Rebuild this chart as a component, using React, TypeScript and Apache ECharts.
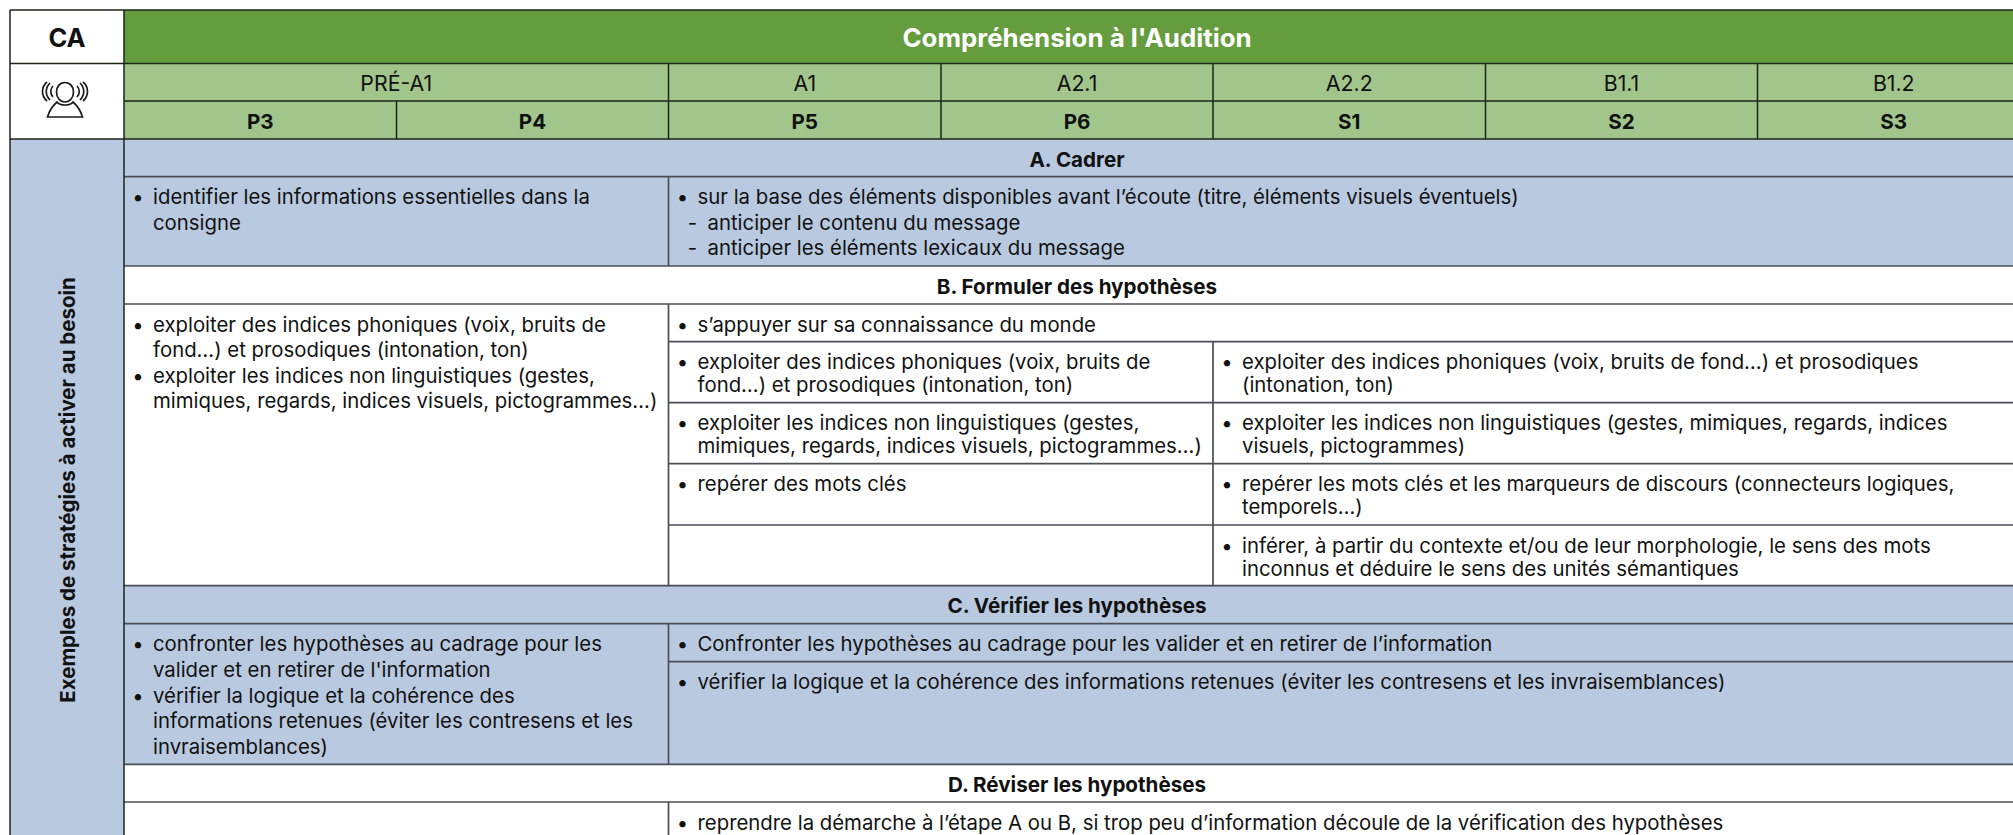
import React, { useEffect, useRef } from "react";
import * as echarts from "echarts";

const sideTitle = "CA";
const mainTitle = "Compréhension à l'Audition";
const sideLabel = "Exemples de stratégies à activer au besoin";
const levels = ["PRÉ-A1", "A1", "A2.1", "A2.2", "B1.1", "B1.2"];
const grades = ["P3", "P4", "P5", "P6", "S1", "S2", "S3"];
const sections = ["A. Cadrer", "B. Formuler des hypothèses", "C. Vérifier les hypothèses", "D. Réviser les hypothèses"];

const aLeft = ["• identifier les informations essentielles dans la", "consigne"];
const aRight = ["• sur la base des éléments disponibles avant l’écoute (titre, éléments visuels éventuels)", "- anticiper le contenu du message", "- anticiper les éléments lexicaux du message"];
const bLeft = ["• exploiter des indices phoniques (voix, bruits de", "fond…) et prosodiques (intonation, ton)", "• exploiter les indices non linguistiques (gestes,", "mimiques, regards, indices visuels, pictogrammes…)"];
const bWide = ["• s’appuyer sur sa connaissance du monde"];
const bMid = [
  ["• exploiter des indices phoniques (voix, bruits de", "fond…) et prosodiques (intonation, ton)"],
  ["• exploiter les indices non linguistiques (gestes,", "mimiques, regards, indices visuels, pictogrammes…)"],
  ["• repérer des mots clés"],
];
const bRight = [
  ["• exploiter des indices phoniques (voix, bruits de fond…) et prosodiques", "(intonation, ton)"],
  ["• exploiter les indices non linguistiques (gestes, mimiques, regards, indices", "visuels, pictogrammes)"],
  ["• repérer les mots clés et les marqueurs de discours (connecteurs logiques,", "temporels…)"],
  ["• inférer, à partir du contexte et/ou de leur morphologie, le sens des mots", "inconnus et déduire le sens des unités sémantiques"],
];
const cLeft = ["• confronter les hypothèses au cadrage pour les", "valider et en retirer de l'information", "• vérifier la logique et la cohérence des", "informations retenues (éviter les contresens et les", "invraisemblances)"];
const cRight = [
  ["• Confronter les hypothèses au cadrage pour les valider et en retirer de l’information"],
  ["• vérifier la logique et la cohérence des informations retenues (éviter les contresens et les invraisemblances)"],
];
const dRight = ["• reprendre la démarche à l’étape A ou B, si trop peu d’information découle de la vérification des hypothèses"];

const FONT = "Inter";
const GREEN = "#659d3e";
const LIGHT = "#a2c58c";
const BLUE = "#b8c9e0";
const W = 2013, H = 835;
const X = [10, 124, 396.5, 668.5, 941, 1213, 1485.5, 1757.5, 2030];
const Y = { top: 10, title: 63.5, level: 101, grade: 139, a: 176.7, aEnd: 266, b: 304, b1: 341.7, b2: 402.7, b3: 463.7, b4: 525, c: 585.7, c0: 623.7, c1: 661.7, d: 764.3, d0: 802 };

echarts.graphic.registerShape("listener", echarts.graphic.extendPath(
  "M65 82.5 C59.5 82.5 56.5 87 56.5 92 C56.5 97.5 60 102 65 102 C70 102 73.5 97.5 73.5 92 C73.5 87 70.5 82.5 65 82.5 Z " +
  "M47.5 117 L82.5 117 C80.5 110 76.5 105 73 102 C70 106 60 106 57 102 C53.5 105 49.5 110 47.5 117 Z " +
  "M53 86 C50 89 50 94 53 97 M50 83 C45 88 45 95 50 100 M47 82 C41 87 41 96 47 101 " +
  "M77 86 C80 89 80 94 77 97 M80 83 C85 88 85 95 80 100 M83 82 C89 87 89 96 83 101", {}));

function txt(text: string, x: number, y: number, o: any = {}) {
  return {
    type: "text", x, y, rotation: o.rotation || 0,
    style: { text, fontFamily: o.family || FONT, fontSize: o.size || 20.35, fontWeight: o.weight || 400, fill: o.fill || "#111", textAlign: o.align || "left", textVerticalAlign: "middle" },
  };
}
function rect(x0: number, y0: number, x1: number, y1: number, fill: string) {
  return { type: "rect", shape: { x: x0, y: y0, width: x1 - x0, height: y1 - y0 }, style: { fill } };
}
function line(x0: number, y0: number, x1: number, y1: number, dark = false) {
  return { type: "line", shape: { x1: x0, y1: y0, x2: x1, y2: y1 }, style: { stroke: dark ? "#1c2418" : "#4a4f55", lineWidth: dark ? 1.5 : 1.7 } };
}
function block(lines: string[], left: number, top: number, pitch: number) {
  const out: any[] = [];
  lines.forEach((l, i) => {
    const y = top + 20 + i * pitch;
    if (l.startsWith("• ")) {
      out.push(txt("•", left + 14, y, { align: "center" }), txt(l.slice(2), left + 29, y));
    } else if (l.startsWith("- ")) {
      out.push(txt("-", left + 24, y, { align: "center" }), txt(l.slice(2), left + 39, y));
    } else {
      out.push(txt(l, left + 29, y));
    }
  });
  return out;
}

function buildElements() {
  const [x0, x1, , x3, , x5] = X;
  const e: any[] = [];
  e.push(rect(x0, Y.top, x1, Y.grade, "#fff"));
  e.push(rect(x1, Y.top, W, Y.title, GREEN));
  e.push(rect(x1, Y.title, W, Y.grade, LIGHT));
  e.push(rect(x0, Y.grade, x1, H, BLUE));
  e.push(rect(x1, Y.grade, W, Y.aEnd, BLUE));
  e.push(rect(x1, Y.c, W, Y.d, BLUE));

  [Y.top, Y.title].forEach((y) => e.push(line(x0, y, W, y, true)));
  [Y.level].forEach((y) => e.push(line(x1, y, W, y, true)));
  e.push(line(x0, Y.grade, W, Y.grade, true));
  [Y.a, Y.aEnd, Y.b, Y.c, Y.c0, Y.d, Y.d0].forEach((y) => e.push(line(x1, y, W, y)));
  [Y.b1, Y.b2, Y.b3, Y.b4].forEach((y) => e.push(line(x3, y, W, y)));
  e.push(line(x3, Y.c1, W, Y.c1));
  e.push(line(x0, Y.top, x0, H, true));
  e.push(line(x1, Y.top, x1, H, true));
  X.slice(3, 8).forEach((x) => e.push(line(x, Y.title, x, Y.grade, true)));
  e.push(line(X[2], Y.level, X[2], Y.grade, true));
  e.push(line(x3, Y.a, x3, Y.aEnd), line(x3, Y.b, x3, Y.c), line(x3, Y.c0, x3, Y.d), line(x3, Y.d0, x3, H));
  e.push(line(x5, Y.b1, x5, Y.c));

  e.push(txt(sideTitle, (x0 + x1) / 2, 37, { align: "center", weight: 700, size: 25.5 }));
  e.push({ type: "listener", x: 0, y: 0, style: { fill: "none", stroke: "#1a1a1a", lineWidth: 1.7 } });
  e.push(txt(mainTitle, (x1 + X[8]) / 2, 37, { align: "center", weight: 700, size: 25.85, fill: "#fff" }));
  const levelCenters = [(x1 + x3) / 2, ...X.slice(3, 8).map((x, i) => (x + X[i + 4]) / 2)];
  levels.forEach((l, i) => e.push(txt(l, levelCenters[i], 83, { align: "center", size: 21.3 })));
  grades.forEach((g, i) => e.push(txt(g, (X[i + 1] + X[i + 2]) / 2, 121, { align: "center", weight: 700, size: 20.6 })));

  e.push(txt(sideLabel, 67, 490, { align: "center", weight: 700, size: 20.5, rotation: Math.PI / 2 }));
  const mid = (x1 + X[8]) / 2;
  e.push(txt(sections[0], mid, 159, { align: "center", weight: 700, size: 20.6 }));
  e.push(txt(sections[1], mid, 286, { align: "center", weight: 700, size: 20.6 }));
  e.push(txt(sections[2], mid, 605.5, { align: "center", weight: 700, size: 20.6 }));
  e.push(txt(sections[3], mid, 784, { align: "center", weight: 700, size: 20.6 }));

  e.push(...block(aLeft, x1, Y.a, 25.5), ...block(aRight, x3, Y.a, 25.5));
  e.push(...block(bLeft, x1, Y.b, 25.6), ...block(bWide, x3, Y.b, 25.5));
  [Y.b1, Y.b2, Y.b3].forEach((y, i) => e.push(...block(bMid[i], x3, y, 23)));
  [Y.b1, Y.b2, Y.b3, Y.b4].forEach((y, i) => e.push(...block(bRight[i], x5, y, 23)));
  e.push(...block(cLeft, x1, Y.c0, 25.7));
  e.push(...block(cRight[0], x3, Y.c0, 25), ...block(cRight[1], x3, Y.c1, 25));
  e.push(...block(dRight, x3, Y.d0, 25));
  return e;
}

export default function App() {
  const ref = useRef<HTMLDivElement>(null);
  useEffect(() => {
    document.body.style.margin = "0";
    const chart = echarts.init(ref.current!, undefined, { renderer: "svg" });
    chart.setOption({ animation: false, backgroundColor: "#fff", graphic: { elements: buildElements() } });
    return () => chart.dispose();
  }, []);
  return <div ref={ref} style={{ width: W, height: H, overflow: "hidden" }} />;
}
